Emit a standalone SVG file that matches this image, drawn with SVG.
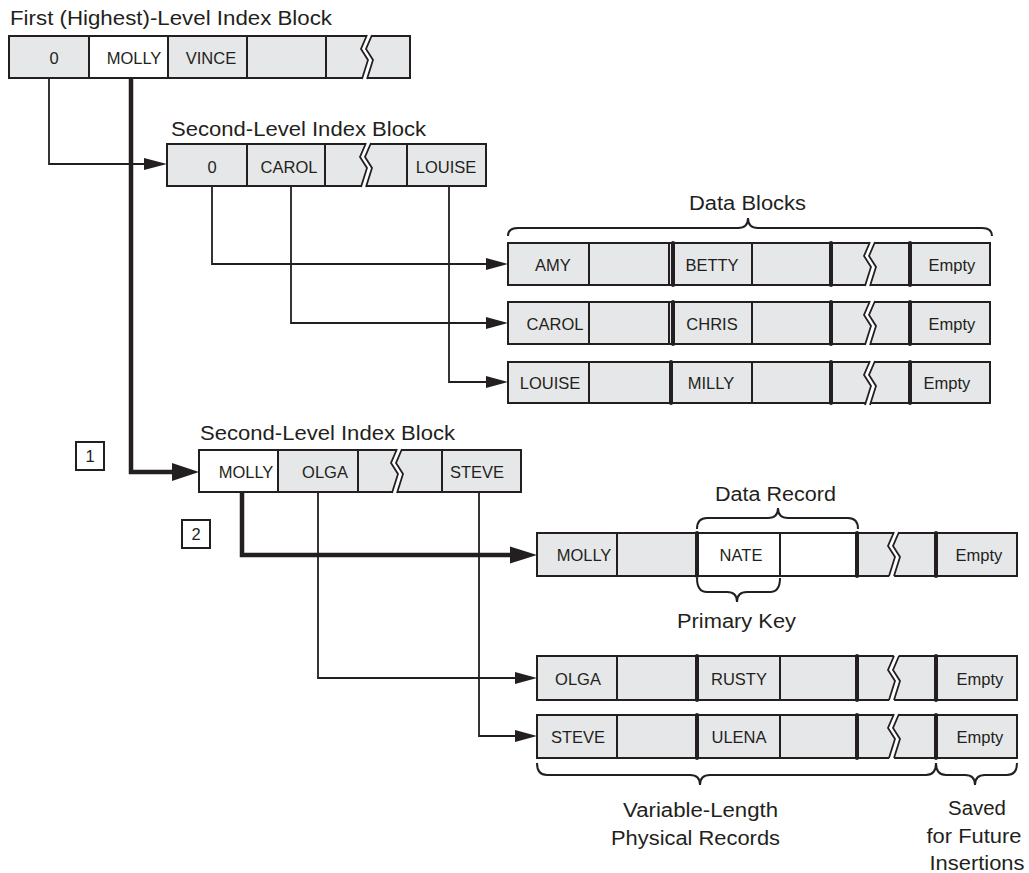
<svg xmlns="http://www.w3.org/2000/svg" xmlns:xlink="http://www.w3.org/1999/xlink" width="1029" height="873" viewBox="0 0 1029 873">
<style>
.g{fill:#e6e7e8;stroke:#231f20;stroke-width:2}
.w{fill:#ffffff;stroke:#231f20;stroke-width:2}
.lbl{font-family:"Liberation Sans",Arial,sans-serif;font-size:16.5px;fill:#231f20;text-anchor:middle}
.ttl{font-family:"Liberation Sans",Arial,sans-serif;font-size:20px;fill:#231f20}
.ln{fill:none;stroke:#231f20;stroke-width:1.8}
.tk{fill:none;stroke:#231f20;stroke-width:4.5}
.ah{fill:#231f20}
.br{fill:none;stroke:#231f20;stroke-width:2}
.bar{fill:#231f20}
</style>
<defs>
<g id="brk">
<polygon points="0,-2 -6,13 1,24 -5,44 0,44 6,24 -1,13 5,-2" fill="#ffffff"/>
<polyline points="0,-1 -6,13 1,24 -5,43" fill="none" stroke="#231f20" stroke-width="1.8" stroke-linejoin="miter"/>
<polyline points="5,-1 -1,13 6,24 0,43" fill="none" stroke="#231f20" stroke-width="1.8" stroke-linejoin="miter"/>
</g>
</defs>
<rect width="1029" height="873" fill="#ffffff"/>

<g id="connectors">
<path class="ln" d="M49,78 V164 H146"/>
<polygon class="ah" points="167,164 144,158 144,170"/>
<path class="ln" d="M212,186 V264 H488"/>
<polygon class="ah" points="508,264 486,258 486,270"/>
<path class="ln" d="M291,186 V323 H488"/>
<polygon class="ah" points="508,323 486,317 486,329"/>
<path class="ln" d="M449,186 V382 H488"/>
<polygon class="ah" points="508,382 486,376 486,388"/>
<path class="tk" d="M131,78 V472 H175"/>
<polygon class="ah" points="199,472 172,463 172,481"/>
<path class="tk" d="M242,492 V555 H512"/>
<polygon class="ah" points="537,555 510,546.5 510,563.5"/>
<path class="ln" d="M318,492 V678 H517"/>
<polygon class="ah" points="537,678 515,672 515,684"/>
<path class="ln" d="M479,492 V736 H517"/>
<polygon class="ah" points="537,736 515,730 515,742"/>
</g>

<g id="first-level">
<text class="ttl" x="10" y="25" textLength="322" lengthAdjust="spacingAndGlyphs">First (Highest)-Level Index Block</text>
<rect class="g" x="9" y="36" width="80" height="42"/>
<rect class="w" x="89" y="36" width="79" height="42"/>
<rect class="g" x="168" y="36" width="79" height="42"/>
<rect class="g" x="247" y="36" width="79" height="42"/>
<rect class="g" x="326" y="36" width="84" height="42"/>
<use xlink:href="#brk" x="367" y="36"/>
<text class="lbl" x="54" y="64">0</text>
<text class="lbl" x="134" y="64">MOLLY</text>
<text class="lbl" x="211" y="64">VINCE</text>
</g>

<g id="second-level-1">
<text class="ttl" x="171" y="136" textLength="255" lengthAdjust="spacingAndGlyphs">Second-Level Index Block</text>
<rect class="g" x="167" y="144" width="80" height="42"/>
<rect class="g" x="247" y="144" width="78" height="42"/>
<rect class="g" x="325" y="144" width="82" height="42"/>
<rect class="g" x="407" y="144" width="79" height="42"/>
<use xlink:href="#brk" x="366" y="144"/>
<text class="lbl" x="212" y="173">0</text>
<text class="lbl" x="289" y="173">CAROL</text>
<text class="lbl" x="446" y="173">LOUISE</text>
</g>

<g id="data-blocks">
<text class="ttl" x="689" y="210" textLength="117" lengthAdjust="spacingAndGlyphs">Data Blocks</text>
<path class="br" d="M508,236 Q508,228 518,228 H738 Q748,228 748,218 Q748,228 758,228 H982 Q992,228 992,236"/>
</g>

<g id="data-amy">
<rect class="g" x="508" y="243" width="81" height="42"/>
<rect class="g" x="589" y="243" width="80" height="42"/>
<rect class="g" x="669" y="243" width="83" height="42"/>
<rect class="g" x="752" y="243" width="79" height="42"/>
<rect class="g" x="831" y="243" width="79" height="42"/>
<rect class="g" x="910" y="243" width="80" height="42"/>
<use xlink:href="#brk" x="870" y="243"/>
<rect class="bar" x="671" y="241" width="4" height="46" rx="2"/>
<rect class="bar" x="829" y="241" width="4" height="46" rx="2"/>
<rect class="bar" x="908" y="241" width="4" height="46" rx="2"/>
<text class="lbl" x="553" y="271">AMY</text>
<text class="lbl" x="712" y="271">BETTY</text>
<text class="lbl" x="952" y="271">Empty</text>
</g>

<g id="data-carol">
<rect class="g" x="508" y="302" width="81" height="42"/>
<rect class="g" x="589" y="302" width="80" height="42"/>
<rect class="g" x="669" y="302" width="83" height="42"/>
<rect class="g" x="752" y="302" width="79" height="42"/>
<rect class="g" x="831" y="302" width="79" height="42"/>
<rect class="g" x="910" y="302" width="80" height="42"/>
<use xlink:href="#brk" x="870" y="302"/>
<rect class="bar" x="671" y="300" width="4" height="46" rx="2"/>
<rect class="bar" x="829" y="300" width="4" height="46" rx="2"/>
<rect class="bar" x="908" y="300" width="4" height="46" rx="2"/>
<text class="lbl" x="555" y="330">CAROL</text>
<text class="lbl" x="712" y="330">CHRIS</text>
<text class="lbl" x="952" y="330">Empty</text>
</g>

<g id="data-louise">
<rect class="g" x="508" y="362" width="81" height="41"/>
<rect class="g" x="589" y="362" width="81" height="41"/>
<rect class="g" x="670" y="362" width="82" height="41"/>
<rect class="g" x="752" y="362" width="79" height="41"/>
<rect class="g" x="831" y="362" width="79" height="41"/>
<rect class="g" x="910" y="362" width="80" height="41"/>
<use xlink:href="#brk" x="870" y="362"/>
<rect class="bar" x="669" y="360" width="4" height="45" rx="2"/>
<rect class="bar" x="829" y="360" width="4" height="45" rx="2"/>
<rect class="bar" x="908" y="360" width="4" height="45" rx="2"/>
<text class="lbl" x="550" y="389">LOUISE</text>
<text class="lbl" x="711" y="389">MILLY</text>
<text class="lbl" x="947" y="389">Empty</text>
</g>

<g id="step-1">
<rect class="w" x="76" y="442" width="28" height="28"/>
<text class="lbl" x="90" y="462">1</text>
</g>

<g id="second-level-2">
<text class="ttl" x="200" y="440" textLength="255" lengthAdjust="spacingAndGlyphs">Second-Level Index Block</text>
<rect class="w" x="199" y="450" width="79" height="42"/>
<rect class="g" x="278" y="450" width="80" height="42"/>
<rect class="g" x="358" y="450" width="84" height="42"/>
<rect class="g" x="442" y="450" width="79" height="42"/>
<use xlink:href="#brk" x="397" y="450"/>
<text class="lbl" x="246" y="478">MOLLY</text>
<text class="lbl" x="325" y="478">OLGA</text>
<text class="lbl" x="477" y="478">STEVE</text>
</g>

<g id="step-2">
<rect class="w" x="182" y="520" width="28" height="28"/>
<text class="lbl" x="196" y="540">2</text>
</g>

<g id="data-record">
<text class="ttl" x="715" y="501" textLength="121" lengthAdjust="spacingAndGlyphs">Data Record</text>
<path class="br" d="M697,529 Q697,518 707,518 H768 Q778,518 778,508 Q778,518 788,518 H848 Q858,518 858,529"/>
</g>

<g id="data-molly">
<rect class="g" x="537" y="533" width="80" height="43"/>
<rect class="g" x="617" y="533" width="80" height="43"/>
<rect class="w" x="697" y="533" width="83" height="43"/>
<rect class="w" x="780" y="533" width="77" height="43"/>
<rect class="g" x="857" y="533" width="79" height="43"/>
<rect class="g" x="936" y="533" width="81" height="43"/>
<use xlink:href="#brk" x="894" y="533"/>
<rect class="bar" x="695" y="531" width="4" height="47" rx="2"/>
<rect class="bar" x="855" y="531" width="4" height="47" rx="2"/>
<rect class="bar" x="934" y="531" width="4" height="47" rx="2"/>
<text class="lbl" x="584" y="561">MOLLY</text>
<text class="lbl" x="741" y="561">NATE</text>
<text class="lbl" x="979" y="561">Empty</text>
</g>

<g id="primary-key">
<path class="br" d="M697,578 Q697,592 707,592 H727 Q737,592 737,602 Q737,592 747,592 H770 Q780,592 780,578"/>
<text class="ttl" x="677" y="628" textLength="119" lengthAdjust="spacingAndGlyphs">Primary Key</text>
</g>

<g id="data-olga">
<rect class="g" x="537" y="656" width="80" height="44"/>
<rect class="g" x="617" y="656" width="80" height="44"/>
<rect class="g" x="697" y="656" width="83" height="44"/>
<rect class="g" x="780" y="656" width="77" height="44"/>
<rect class="g" x="857" y="656" width="79" height="44"/>
<rect class="g" x="936" y="656" width="81" height="44"/>
<use xlink:href="#brk" x="894" y="657"/>
<rect class="bar" x="695" y="654" width="4" height="48" rx="2"/>
<rect class="bar" x="855" y="654" width="4" height="48" rx="2"/>
<rect class="bar" x="934" y="654" width="4" height="48" rx="2"/>
<text class="lbl" x="578" y="685">OLGA</text>
<text class="lbl" x="739" y="685">RUSTY</text>
<text class="lbl" x="980" y="685">Empty</text>
</g>

<g id="data-steve">
<rect class="g" x="537" y="715" width="80" height="43"/>
<rect class="g" x="617" y="715" width="80" height="43"/>
<rect class="g" x="697" y="715" width="83" height="43"/>
<rect class="g" x="780" y="715" width="77" height="43"/>
<rect class="g" x="857" y="715" width="79" height="43"/>
<rect class="g" x="936" y="715" width="81" height="43"/>
<use xlink:href="#brk" x="894" y="715"/>
<rect class="bar" x="695" y="713" width="4" height="47" rx="2"/>
<rect class="bar" x="855" y="713" width="4" height="47" rx="2"/>
<rect class="bar" x="934" y="713" width="4" height="47" rx="2"/>
<text class="lbl" x="578" y="743">STEVE</text>
<text class="lbl" x="739" y="743">ULENA</text>
<text class="lbl" x="980" y="743">Empty</text>
</g>

<g id="variable-length">
<path class="br" d="M537,763 Q537,775 547,775 H690 Q700,775 700,785 Q700,775 710,775 H926 Q936,775 936,763"/>
<text class="ttl" x="623" y="817" textLength="155" lengthAdjust="spacingAndGlyphs">Variable-Length</text>
<text class="ttl" x="611" y="845" textLength="169" lengthAdjust="spacingAndGlyphs">Physical Records</text>
</g>

<g id="saved">
<path class="br" d="M936,763 Q936,775 946,775 H965 Q975,775 975,785 Q975,775 985,775 H1007 Q1017,775 1017,763"/>
<text class="ttl" x="977" y="815" text-anchor="middle" textLength="58" lengthAdjust="spacingAndGlyphs">Saved</text>
<text class="ttl" x="974" y="843" text-anchor="middle" textLength="95" lengthAdjust="spacingAndGlyphs">for Future</text>
<text class="ttl" x="977" y="870" text-anchor="middle" textLength="95" lengthAdjust="spacingAndGlyphs">Insertions</text>
</g>
</svg>
